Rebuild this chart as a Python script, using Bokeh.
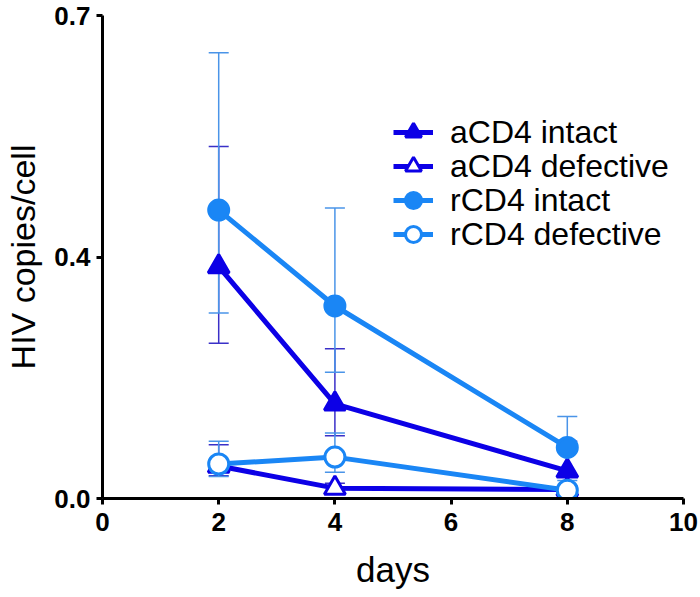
from bokeh.plotting import figure
from bokeh.models import (ColumnDataSource, Whisker, TeeHead, Legend, LegendItem,
                          FixedTicker, Range1d)
from bokeh.embed import file_html
from bokeh.resources import INLINE

# ---- data ----
days = [2, 4, 8]

acd4_intact = [0.336, 0.137, 0.040]
acd4_intact_lo = [0.225, 0.091, 0.032]
acd4_intact_hi = [0.510, 0.217, 0.083]

acd4_defective = [0.047, 0.015, 0.013]
acd4_defective_lo = [0.033, 0.008, 0.008]
acd4_defective_hi = [0.078, 0.022, 0.018]

rcd4_intact = [0.418, 0.279, 0.074]
rcd4_intact_lo = [0.269, 0.183, 0.026]
rcd4_intact_hi = [0.646, 0.421, 0.119]

rcd4_defective = [0.050, 0.060, 0.012]
rcd4_defective_lo = [0.032, 0.038, 0.006]
rcd4_defective_hi = [0.083, 0.095, 0.018]

x_ticks = [0, 2, 4, 6, 8, 10]
y_ticks = [0, 0.35, 0.7]
y_tick_labels = ["0.0", "0.4", "0.7"]

DARK = "#0c00e6"
LIGHT = "#1a86f5"
DARK_ERR = "#3a30c8"
LIGHT_ERR = "#4a94e8"
FONT = "Liberation Sans"

p = figure(width=700, height=597, x_range=Range1d(0, 10), y_range=Range1d(0, 0.7),
           output_backend="svg", toolbar_location=None,
           min_border_left=102, min_border_right=17, min_border_top=15, min_border_bottom=99)
p.outline_line_color = None
p.xgrid.visible = False
p.ygrid.visible = False
p.background_fill_color = "white"
p.border_fill_color = "white"

for ax in (p.xaxis[0], p.yaxis[0]):
    ax.axis_line_width = 3
    ax.axis_line_color = "black"
    ax.major_tick_line_width = 3
    ax.major_tick_out = 6
    ax.major_tick_in = 0
    ax.minor_tick_line_color = None
    ax.major_label_text_font = FONT
    ax.major_label_text_font_style = "bold"
    ax.major_label_text_font_size = "26px"
    ax.major_label_text_color = "black"
    ax.axis_label_text_font = FONT
    ax.axis_label_text_font_style = "normal"
    ax.axis_label_text_color = "black"

p.xaxis.axis_label_text_font_size = "35px"
p.yaxis.axis_label_text_font_size = "34px"
p.xaxis.ticker = FixedTicker(ticks=x_ticks)
p.yaxis.ticker = FixedTicker(ticks=y_ticks)
p.yaxis.major_label_overrides = {t: l for t, l in zip(y_ticks, y_tick_labels)}
p.xaxis.axis_label = "days"
p.yaxis.axis_label = "HIV copies/cell"
p.xaxis.major_label_standoff = 8
p.yaxis.major_label_standoff = 6
p.xaxis.axis_label_standoff = 16
p.yaxis.axis_label_standoff = 9

series = [
    ("aCD4 intact", acd4_intact, acd4_intact_lo, acd4_intact_hi, DARK, DARK_ERR, "triangle", True),
    ("aCD4 defective", acd4_defective, acd4_defective_lo, acd4_defective_hi, DARK, DARK_ERR, "triangle", False),
    ("rCD4 intact", rcd4_intact, rcd4_intact_lo, rcd4_intact_hi, LIGHT, LIGHT_ERR, "circle", True),
    ("rCD4 defective", rcd4_defective, rcd4_defective_lo, rcd4_defective_hi, LIGHT, LIGHT_ERR, "circle", False),
]

# legend rows: offsets (px) of each row's bottom above the frame bottom
legend_offsets = [346, 312, 278, 244]

for (name, vals, lo, hi, col, ecol, marker, filled), off in zip(series, legend_offsets):
    src = ColumnDataSource(dict(x=days, y=vals, lower=lo, upper=hi))
    ln = p.line("x", "y", source=src, line_color=col, line_width=5)
    sc = p.scatter("x", "y", source=src, marker=marker, size=20 if marker == "circle" else 21,
                   line_color=col, line_width=3,
                   fill_color=col if filled else "white")
    w = Whisker(source=src, base="x", lower="lower", upper="upper", dimension="height",
                line_color=ecol, line_width=1.5,
                upper_head=TeeHead(size=20, line_color=ecol, line_width=1.5),
                lower_head=TeeHead(size=20, line_color=ecol, line_width=1.5))
    p.add_layout(w)
    leg = Legend(items=[LegendItem(label=name, renderers=[ln, sc])], location=(291, off),
                 border_line_color=None, background_fill_alpha=0,
                 label_text_font=FONT, label_text_font_size="32px", label_text_color="black",
                 glyph_width=40, glyph_height=40, label_height=40,
                 label_standoff=17, spacing=0, padding=0, margin=0)
    p.add_layout(leg, "center")

open("out.html", "w").write(file_html(p, INLINE))
